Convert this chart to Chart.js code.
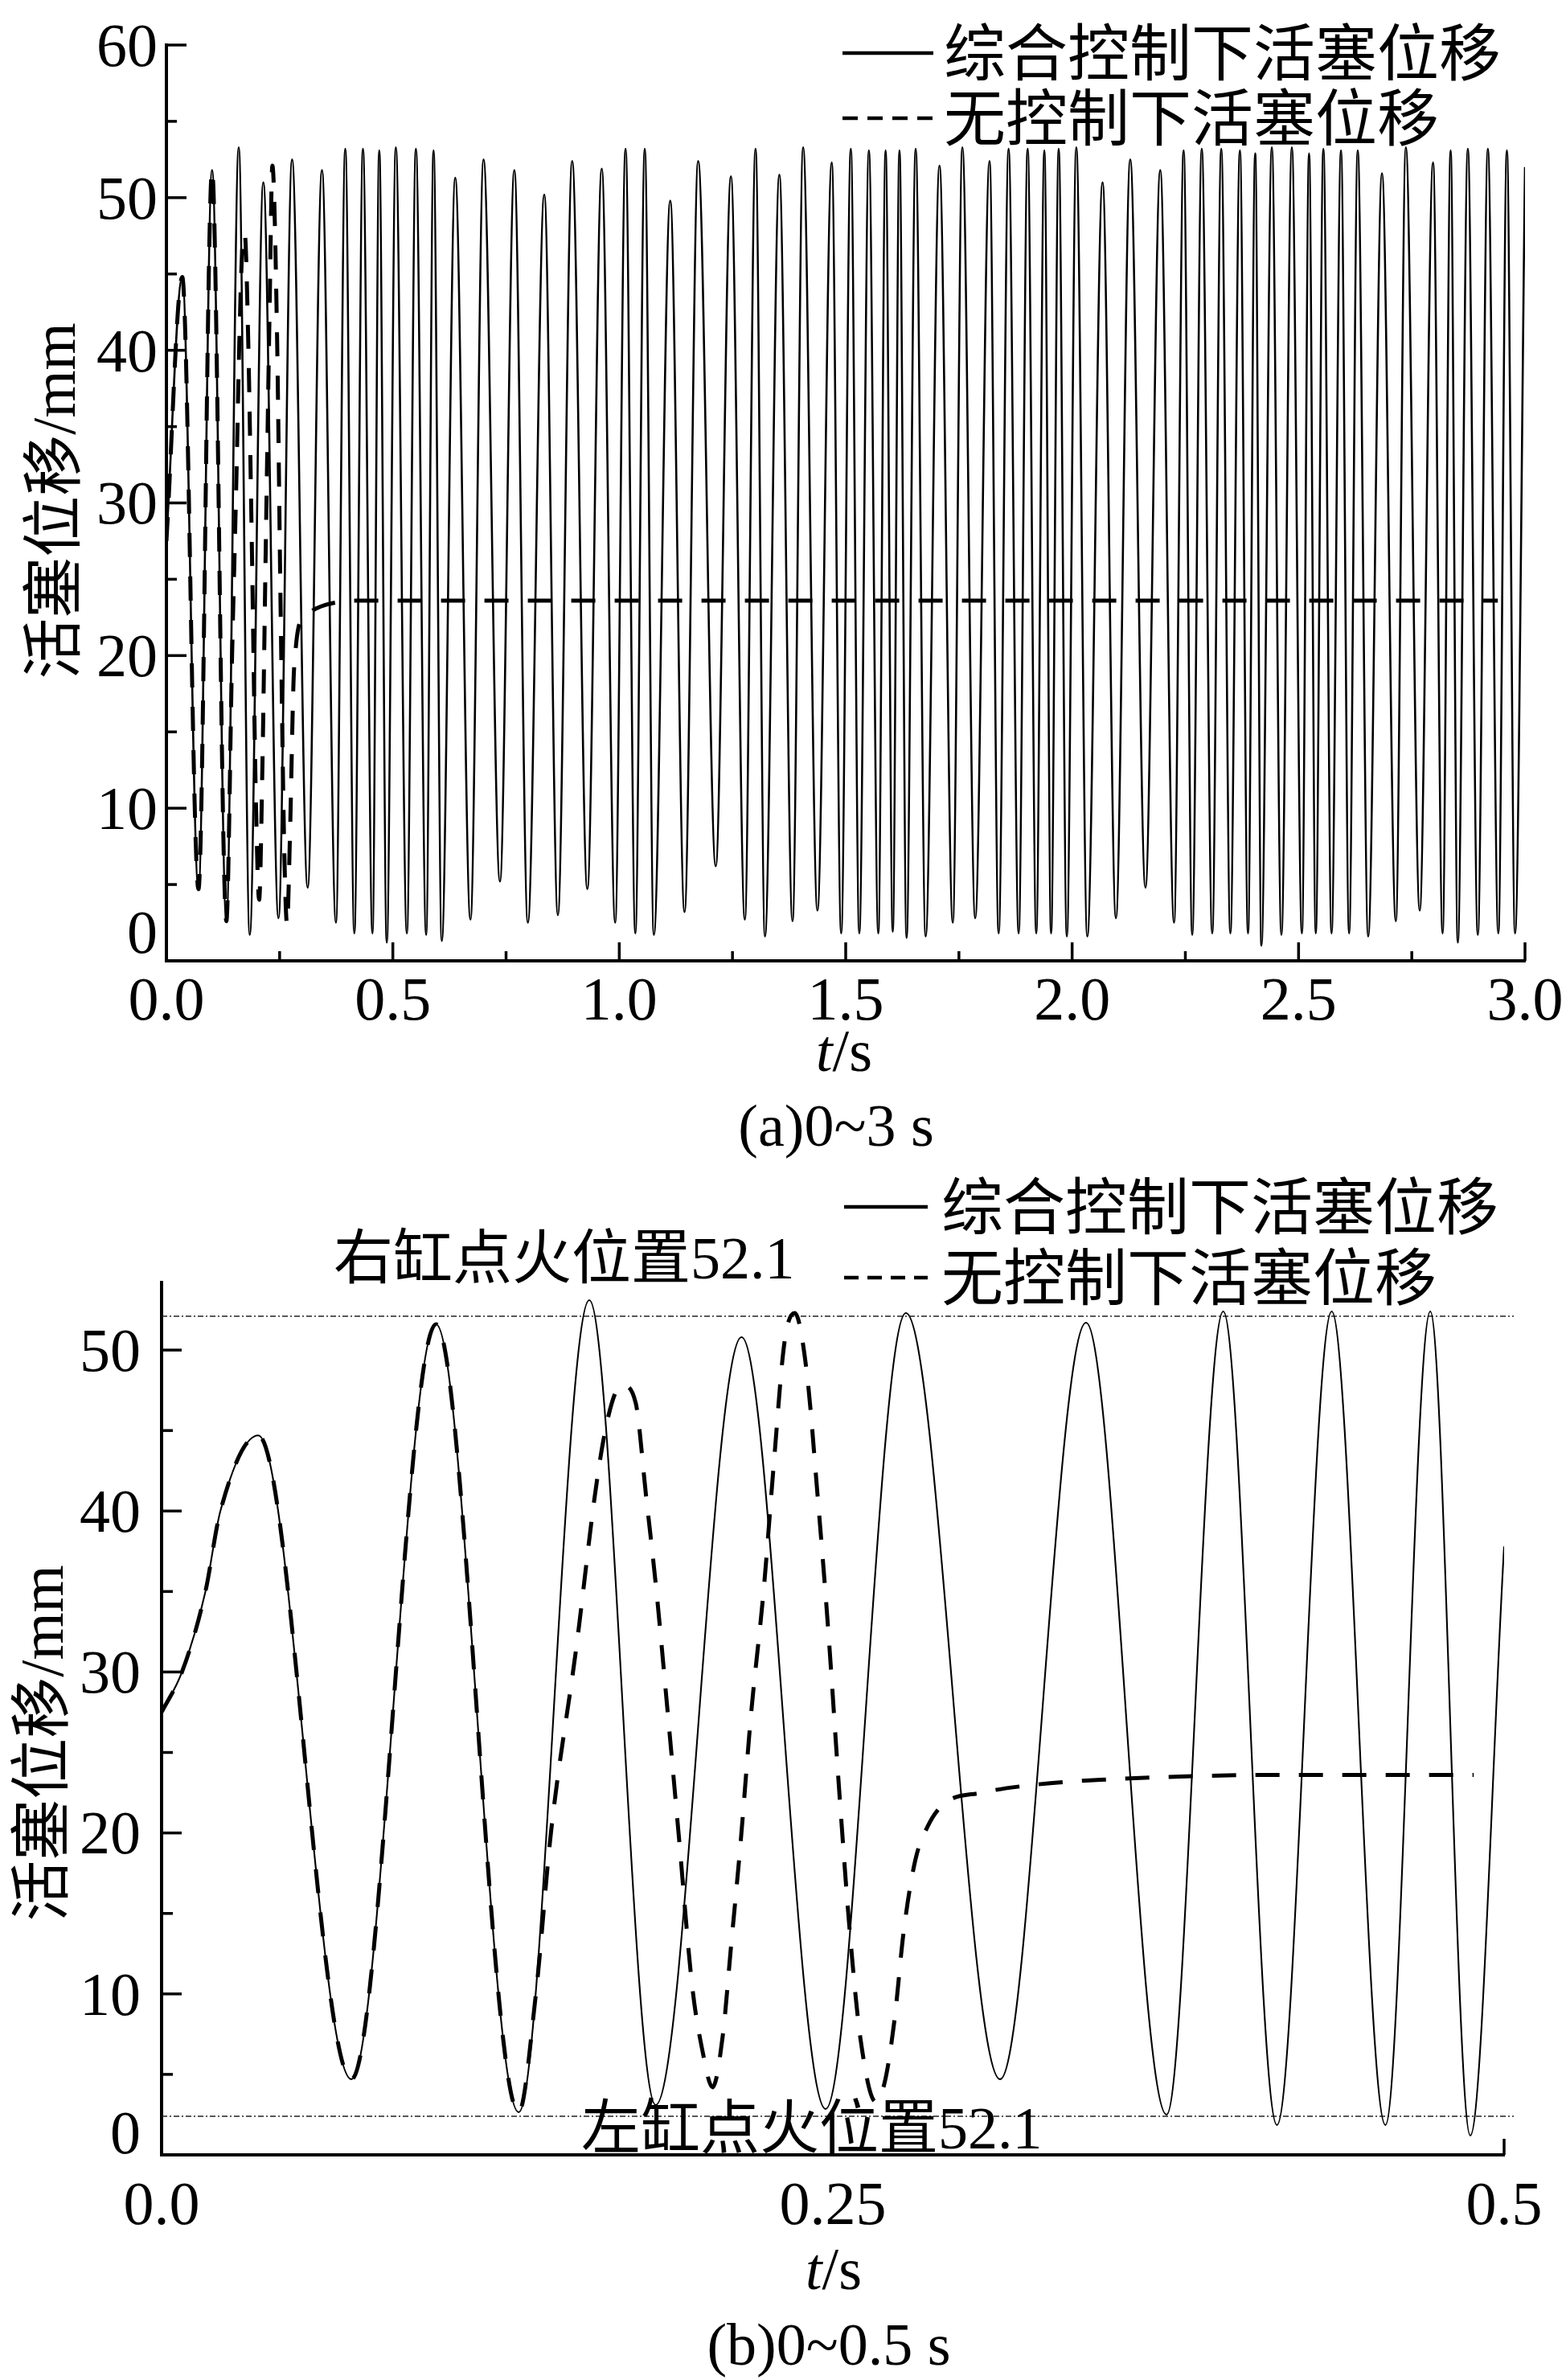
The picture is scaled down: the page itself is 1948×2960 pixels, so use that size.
<!DOCTYPE html>
<html>
<head>
<meta charset="utf-8">
<script src="https://cdn.jsdelivr.net/npm/chart.js@4.4.1/dist/chart.umd.min.js"></script>
<style>
html,body{margin:0;padding:0;background:#fff;}
body{width:1948px;height:2960px;position:relative;overflow:hidden;}
#wa{position:absolute;left:0;top:0;width:1948px;height:1440px;}
#wb{position:absolute;left:0;top:1440px;width:1948px;height:1520px;}
.lbl{position:absolute;font-family:'Liberation Serif','Times New Roman',serif;font-size:74px;line-height:1;white-space:nowrap;transform:translate(-50%,-50%);color:#000;}
</style>
</head>
<body>
<div id="wa"><canvas id="ca" width="1948" height="1440"></canvas></div>
<div id="wb"><canvas id="cb" width="1948" height="1520"></canvas></div>
<div class="lbl" style="left:1050px;top:1307px"><i>t</i>/s</div>
<div class="lbl" style="left:1040px;top:1400px">(a)0~3 s</div>
<div class="lbl" style="left:1037px;top:2822px"><i>t</i>/s</div>
<div class="lbl" style="left:1031px;top:2916px">(b)0~0.5 s</div>
<script>
// ---------------- data ----------------
const seriesNames = ['综合控制下活塞位移', '无控制下活塞位移'];
const yAxisTitle = '活塞位移/mm';

// (a) 0~3 s : integrated control (peaks / troughs)
const timeA_ctrl = [
  0, 0.035, 0.0708, 0.1008, 0.1324, 0.1597, 0.184, 0.214, 0.2475, 0.2775,
  0.3119, 0.3435, 0.3744, 0.395, 0.415, 0.434, 0.455, 0.470, 0.4866, 0.5066,
  0.531, 0.5509, 0.5736, 0.5899, 0.608, 0.6378, 0.6714, 0.7003, 0.7365, 0.7683,
  0.7981, 0.8344, 0.8644, 0.8960, 0.9295, 0.9613, 0.991, 1.0139, 1.0355, 1.0563,
  1.0763, 1.1126, 1.1441, 1.1742, 1.213, 1.2466, 1.2773, 1.3009, 1.3217, 1.3535,
  1.3826, 1.406, 1.4376, 1.4692, 1.490, 1.5113, 1.530, 1.5512, 1.572, 1.5881,
  1.6039, 1.6187, 1.6344, 1.6545, 1.6765, 1.7071, 1.7365, 1.7576, 1.786, 1.8177,
  1.8377, 1.8597, 1.8819, 1.9018, 1.9208, 1.9387, 1.9535, 1.9703, 1.9883, 2.0092,
  2.0335, 2.0672, 2.0967, 2.1283, 2.1619, 2.1946, 2.2251, 2.2462, 2.2652, 2.2862,
  2.3094, 2.3293, 2.3494, 2.3705, 2.3884, 2.4042, 2.418, 2.441, 2.4621, 2.4852,
  2.5074, 2.5232, 2.538, 2.5548, 2.5728, 2.5937, 2.6116, 2.6306, 2.6537, 2.6842,
  2.7148, 2.7369, 2.7675, 2.797, 2.818, 2.8358, 2.8516, 2.8738, 2.8958, 2.918,
  2.9411, 2.960, 2.978, 3.0
];
const posA_ctrl = [
  27.5, 44.8, 4.7, 51.8, 2.6, 53.3, 1.7, 51.0, 2.8, 52.5,
  4.8, 51.8, 2.5, 53.2, 1.8, 53.2, 1.8, 53.1, 1.2, 53.3,
  1.8, 53.2, 1.7, 53.1, 1.3, 51.3, 2.7, 52.5, 5.2, 51.8,
  2.5, 50.2, 3.0, 52.4, 4.7, 51.9, 2.5, 53.2, 1.8, 53.2,
  1.7, 49.8, 3.2, 52.4, 6.2, 51.4, 2.7, 53.2, 1.6, 51.5,
  2.6, 53.3, 3.3, 52.3, 1.8, 53.2, 1.8, 53.1, 1.8, 53.1,
  1.9, 53.1, 1.5, 53.2, 1.6, 52.1, 2.5, 53.3, 2.8, 52.4,
  1.8, 53.2, 1.8, 53.2, 1.8, 53.1, 1.8, 53.2, 1.6, 53.3,
  1.6, 51.0, 2.8, 52.5, 4.8, 51.8, 2.5, 53.1, 1.7, 53.2,
  1.8, 53.2, 1.8, 53.1, 1.8, 52.9, 1.0, 53.3, 1.7, 53.3,
  1.8, 52.9, 1.8, 53.2, 1.8, 53.1, 1.8, 53.1, 1.6, 51.6,
  2.6, 53.3, 3.3, 52.3, 1.8, 53.1, 1.2, 53.2, 1.7, 53.2,
  1.8, 53.1, 1.8, 52.0
];
// (a) no control
const timeA_free = [
  0, 0.035, 0.0708, 0.1008, 0.1324, 0.145, 0.1546, 0.1614, 0.1689, 0.173,
  0.1804, 0.188, 0.1976, 0.2048, 0.212, 0.2195, 0.228, 0.234, 0.2443, 0.2523,
  0.2603, 0.2664, 0.2729, 0.2807, 0.2853, 0.2913, 0.3054, 0.3254, 0.3494, 0.3793,
  0.4093, 2.94
];
const posA_free = [
  27.5, 44.8, 4.7, 51.8, 2.6, 20, 31.7, 41, 47.3, 47.6,
  41, 28.4, 10.5, 4.0, 12.8, 27.3, 42.9, 52.1, 41, 22.8,
  7.2, 2.4, 8.3, 18.3, 20.4, 21.8, 22.5, 23.0, 23.3, 23.5,
  23.6, 23.6
];

// (b) 0~0.5 s : integrated control
const timeB_ctrl = [
  0, 0.0076, 0.0162, 0.0219, 0.036, 0.0707, 0.1022, 0.133, 0.1593, 0.184,
  0.216, 0.2473, 0.2772, 0.3123, 0.3443, 0.3743, 0.3954, 0.4154, 0.4358, 0.4558,
  0.4725, 0.4874, 0.5
];
const posB_ctrl = [
  27.5, 30, 34.9, 40, 44.7, 4.7, 51.6, 2.65, 53.1, 3.1,
  50.8, 2.85, 52.3, 4.7, 51.7, 2.5, 52.4, 1.85, 52.4, 1.85,
  52.4, 1.2, 37.8
];
// (b) no control
const timeB_free = [
  0, 0.0076, 0.0162, 0.0219, 0.036, 0.0707, 0.1022, 0.133, 0.1394, 0.145,
  0.1546, 0.1614, 0.165, 0.1689, 0.1718, 0.1766, 0.1804, 0.1842, 0.188, 0.1928,
  0.1976, 0.2014, 0.2052, 0.209, 0.212, 0.2157, 0.2195, 0.2243, 0.228, 0.232,
  0.2358, 0.2403, 0.2443, 0.2482, 0.2523, 0.2563, 0.2603, 0.266, 0.2693, 0.2729,
  0.2764, 0.2807, 0.2853, 0.2913, 0.3054, 0.3254, 0.3494, 0.3793, 0.4093, 0.4887
];
const posB_free = [
  27.5, 30, 34.9, 40, 44.7, 4.7, 51.6, 2.65, 10, 20,
  31.7, 41, 44.8, 47.3, 47.8, 46.7, 41, 35.2, 28.4, 19.5,
  10.5, 6.5, 4.2, 7.4, 12.8, 19.5, 27.3, 35.2, 42.9, 50.5,
  52.3, 48.6, 41, 32.8, 22.8, 13.9, 7.2, 3.3, 4.5, 8.3,
  13.9, 18.3, 20.4, 21.8, 22.5, 23.0, 23.3, 23.5, 23.6, 23.6
];

// (b) ignition reference lines
const refTimes = [0, 0.5036];
const refRight = 52.1;
const refLeft = 2.4;
const refRightLabel = '右缸点火位置52.1';
const refLeftLabel = '左缸点火位置52.1';

// ticks
const xMajorA = [0.5, 1.0, 1.5, 2.0, 2.5, 3.0];
const xMinorA = [0.25, 0.75, 1.25, 1.75, 2.25, 2.75];
const xLabelValA = [0, 0.5, 1.0, 1.5, 2.0, 2.5, 3.0];
const xLabelTxtA = ['0.0', '0.5', '1.0', '1.5', '2.0', '2.5', '3.0'];
const yMajorA = [10, 20, 30, 40, 50, 60];
const yMinorA = [5, 15, 25, 35, 45, 55];
const yLabelValA = [0, 10, 20, 30, 40, 50, 60];
const yLabelTxtA = ['0', '10', '20', '30', '40', '50', '60'];

const xMajorB = [0.25, 0.5];
const xLabelValB = [0, 0.25, 0.5];
const xLabelTxtB = ['0.0', '0.25', '0.5'];
const yMajorB = [10, 20, 30, 40, 50];
const yMinorB = [5, 15, 25, 35, 45];
const yLabelValB = [0, 10, 20, 30, 40, 50];
const yLabelTxtB = ['0', '10', '20', '30', '40', '50'];

// ---------------- drawing ----------------
const NUM_FONT_SIZE = 76;
const NUM_FONT = NUM_FONT_SIZE + "px 'Liberation Serif', 'Times New Roman', serif";
const LEG_SIZE = 77;
const LEG_FONT = LEG_SIZE + "px 'Noto Sans CJK SC', sans-serif";
const NOTE_SIZE = 74;
const NOTE_FONT = NOTE_SIZE + "px 'Liberation Serif', 'Noto Sans CJK SC', serif";
const YT_SIZE = 76;
const YT_FONT = YT_SIZE + "px 'Liberation Serif', 'Noto Sans CJK SC', serif";

const pts = (ts, vs) => ts.map((t, i) => ({x: t, y: vs[i]}));

const paperPlugin = {
  id: 'paper',
  afterDraw(chart, args, o) {
    const ctx = chart.ctx, xs = chart.scales.x, ys = chart.scales.y, ca = chart.chartArea;
    ctx.save();
    ctx.strokeStyle = '#000';
    ctx.fillStyle = '#000';
    ctx.lineCap = 'butt';
    const seg = (x1, y1, x2, y2) => { ctx.beginPath(); ctx.moveTo(x1, y1); ctx.lineTo(x2, y2); ctx.stroke(); };
    ctx.lineWidth = 3.5;
    o.xMajor.forEach(v => { const p = xs.getPixelForValue(v); seg(p, ca.bottom, p, ca.bottom - o.xMajorLen); });
    o.xMinor.forEach(v => { const p = xs.getPixelForValue(v); seg(p, ca.bottom, p, ca.bottom - o.xMinorLen); });
    o.yMajor.forEach(v => { const p = ys.getPixelForValue(v); seg(ca.left, p, ca.left + o.yMajorLen, p); });
    o.yMinor.forEach(v => { const p = ys.getPixelForValue(v); seg(ca.left, p, ca.left + o.yMinorLen, p); });

    ctx.font = NUM_FONT;
    ctx.textBaseline = 'alphabetic';
    ctx.textAlign = 'right';
    o.yLabelVal.forEach((v, i) => {
      let p = ys.getPixelForValue(v);
      if (v === 0) p -= o.zeroLift;
      ctx.fillText(o.yLabelTxt[i], ca.left - o.yLabelGap, p + NUM_FONT_SIZE * 0.34);
    });
    ctx.textAlign = 'center';
    o.xLabelVal.forEach((v, i) => {
      const p = xs.getPixelForValue(v);
      ctx.fillText(o.xLabelTxt[i], p, o.xLabelY + NUM_FONT_SIZE * 0.34);
    });

    // y axis title (rotated)
    ctx.save();
    ctx.translate(o.yTitleX, o.yTitleY);
    ctx.rotate(-Math.PI / 2);
    ctx.font = YT_FONT;
    ctx.textAlign = 'center';
    ctx.fillText(o.yTitle, 0, YT_SIZE * 0.36);
    ctx.restore();

    // legend
    o.legend.forEach(it => {
      const ds = chart.data.datasets[it.ds];
      ctx.lineWidth = it.width;
      ctx.setLineDash(it.dash);
      seg(it.x1, it.y, it.x2, it.y);
      ctx.setLineDash([]);
      ctx.font = LEG_FONT;
      ctx.textAlign = 'left';
      ctx.fillText(ds.label, it.tx, it.y + LEG_SIZE * 0.36);
    });

    // notes
    (o.notes || []).forEach(n => {
      ctx.font = NOTE_FONT;
      ctx.textAlign = 'left';
      ctx.fillText(n.text, n.x, n.y + NOTE_SIZE * 0.36);
    });
    ctx.restore();
  }
};

function axisCfg(min, max, size, isX, ticksArr) {
  return {
    type: 'linear', min: min, max: max,
    afterBuildTicks: s => { s.ticks = ticksArr.map(v => ({value: v})); },
    afterFit: s => { if (isX) s.height = size; else s.width = size; },
    ticks: {display: false},
    grid: {display: false, drawTicks: false},
    border: {display: true, width: 4, color: '#000'},
    title: {display: false}
  };
}

const solidA = {borderColor: '#000', borderWidth: 2.6, pointRadius: 0, cubicInterpolationMode: 'monotone', fill: false, order: 1};
const solidB = {borderColor: '#000', borderWidth: 2.1, pointRadius: 0, cubicInterpolationMode: 'monotone', fill: false, order: 1};
const dashStyle = {borderColor: '#000', borderWidth: 5, borderDash: [30, 24], pointRadius: 0, cubicInterpolationMode: 'monotone', fill: false, order: 0};

// ---- chart (a) ----
new Chart(document.getElementById('ca'), {
  type: 'line',
  data: {
    datasets: [
      Object.assign({label: seriesNames[0], data: pts(timeA_ctrl, posA_ctrl)}, solidA),
      Object.assign({label: seriesNames[1], data: pts(timeA_free, posA_free)}, dashStyle)
    ]
  },
  options: {
    responsive: false, animation: false, devicePixelRatio: 1, events: [],
    layout: {padding: {left: 0, top: 56, right: 51, bottom: 0}},
    plugins: {
      legend: {display: false}, tooltip: {enabled: false},
      paper: {
        xMajor: xMajorA, xMinor: xMinorA, xMajorLen: 23, xMinorLen: 12,
        yMajor: yMajorA, yMinor: yMinorA, yMajorLen: 25, yMinorLen: 13,
        yLabelVal: yLabelValA, yLabelTxt: yLabelTxtA, yLabelGap: 11, zeroLift: 36,
        xLabelVal: xLabelValA, xLabelTxt: xLabelTxtA, xLabelY: 1242,
        yTitle: yAxisTitle, yTitleX: 66, yTitleY: 623,
        legend: [
          {ds: 0, x1: 1048, x2: 1161, y: 66, tx: 1174, width: 4.5, dash: []},
          {ds: 1, x1: 1048, x2: 1161, y: 147, tx: 1174, width: 4.5, dash: [19, 12]}
        ]
      }
    },
    scales: {
      x: axisCfg(0, 3, 1440 - 1195, true, xLabelValA),
      y: axisCfg(0, 60, 207, false, yLabelValA)
    }
  },
  plugins: [paperPlugin]
});

// ---- chart (b) ----
const refStyle = {borderColor: '#222', borderWidth: 1.6, borderDash: [7, 3, 2, 3], pointRadius: 0, fill: false, clip: false, order: 2};
new Chart(document.getElementById('cb'), {
  type: 'line',
  data: {
    datasets: [
      Object.assign({label: seriesNames[0], data: pts(timeB_ctrl, posB_ctrl)}, solidB),
      Object.assign({label: seriesNames[1], data: pts(timeB_free, posB_free)}, dashStyle),
      Object.assign({label: refRightLabel, data: refTimes.map(t => ({x: t, y: refRight}))}, refStyle),
      Object.assign({label: refLeftLabel, data: refTimes.map(t => ({x: t, y: refLeft}))}, refStyle)
    ]
  },
  options: {
    responsive: false, animation: false, devicePixelRatio: 1, events: [],
    layout: {padding: {left: 0, top: 155, right: 77, bottom: 0}},
    plugins: {
      legend: {display: false}, tooltip: {enabled: false},
      paper: {
        xMajor: xMajorB, xMinor: [], xMajorLen: 20, xMinorLen: 0,
        yMajor: yMajorB, yMinor: yMinorB, yMajorLen: 25, yMinorLen: 14,
        yLabelVal: yLabelValB, yLabelTxt: yLabelTxtB, yLabelGap: 26, zeroLift: 28,
        xLabelVal: xLabelValB, xLabelTxt: xLabelTxtB, xLabelY: 1300,
        yTitle: yAxisTitle, yTitleX: 51, yTitleY: 728,
        legend: [
          {ds: 0, x1: 1050, x2: 1154, y: 61, tx: 1171, width: 4.5, dash: []},
          {ds: 1, x1: 1050, x2: 1154, y: 149, tx: 1171, width: 4.5, dash: [18, 11]}
        ],
        notes: [
          {text: refRightLabel, x: 415, y: 123},
          {text: refLeftLabel, x: 723, y: 1205}
        ]
      }
    },
    scales: {
      x: axisCfg(0, 0.5, 1520 - 1240, true, xLabelValB),
      y: axisCfg(0, 54.2, 201, false, yLabelValB)
    }
  },
  plugins: [paperPlugin]
});
</script>
</body>
</html>
